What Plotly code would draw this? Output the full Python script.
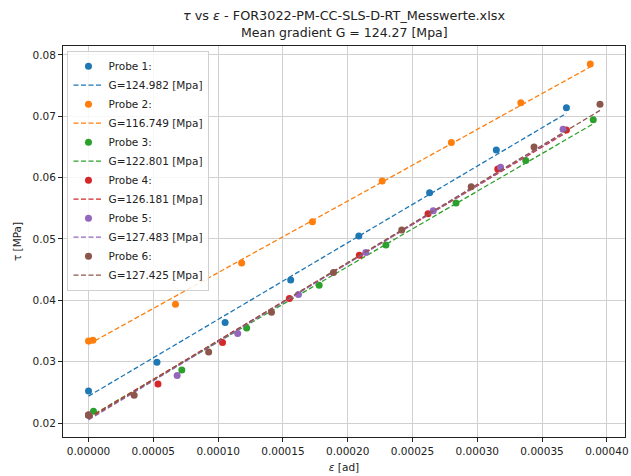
import numpy as np
import plotly.graph_objects as go

# ---- data ----
probe_names = ["Probe 1:", "Probe 2:", "Probe 3:", "Probe 4:", "Probe 5:", "Probe 6:"]
g_values = [124.982, 116.749, 122.801, 126.181, 127.483, 127.425]
mean_gradient = 124.27

eps1 = [0, 0.0000528, 0.0001054, 0.000156, 0.0002086, 0.0002632, 0.0003147, 0.0003688]
tau1 = [0.02522, 0.0299, 0.03638, 0.04333, 0.0505, 0.05752, 0.06449, 0.07139]

eps2 = [0, 0.0000034, 0.0000671, 0.0001182, 0.0001728, 0.0002266, 0.00028, 0.0003336, 0.0003872]
tau2 = [0.03338, 0.0335, 0.03936, 0.0461, 0.0528, 0.05943, 0.06574, 0.0722, 0.07851]

eps3 = [0, 0.0000038, 0.000072, 0.000122, 0.000178, 0.0002295, 0.0002836, 0.0003374, 0.0003895]
tau3 = [0.0213, 0.0219, 0.02865, 0.0355, 0.04246, 0.0490, 0.05584, 0.0628, 0.06943]

eps4 = [0, 0.0000536, 0.0001034, 0.000155, 0.000209, 0.000262, 0.0003158, 0.0003688]
tau4 = [0.0213, 0.02636, 0.03312, 0.0403, 0.04736, 0.0541, 0.0614, 0.06775]

eps5 = [0, 0.0000684, 0.0001151, 0.000162, 0.000214, 0.000266, 0.000318, 0.0003662]
tau5 = [0.0213, 0.02773, 0.03458, 0.04095, 0.0478, 0.0546, 0.0617, 0.0679]

eps6 = [0, 0.0000352, 0.0000927, 0.0001412, 0.000189, 0.0002417, 0.0002953, 0.0003438, 0.0003947]
tau6 = [0.02126, 0.02452, 0.03158, 0.03806, 0.04453, 0.05144, 0.0585, 0.065, 0.07194]

title_line1 = "<i>τ</i> vs <i>ε</i> - FOR3022-PM-CC-SLS-D-RT_Messwerte.xlsx"
title_line2 = f"Mean gradient G = {mean_gradient:.2f} [Mpa]"

colors = ["#1f77b4", "#ff7f0e", "#2ca02c", "#d62728", "#9467bd", "#8c564b"]

eps_all = [eps1, eps2, eps3, eps4, eps5, eps6]
tau_all = [tau1, tau2, tau3, tau4, tau5, tau6]

FONT = "DejaVu Sans"
TXT = "#222"
fig = go.Figure()

for name, g, ex, ty, c in zip(probe_names, g_values, eps_all, tau_all, colors):
    ex = np.array(ex)
    ty = np.array(ty)
    b = float(np.mean(ty - g * ex))
    xl = np.array([ex.min(), ex.max()])
    fig.add_trace(go.Scatter(x=ex, y=ty, mode="markers", name=name,
                             marker=dict(color=c, size=7)))
    fig.add_trace(go.Scatter(x=xl, y=g * xl + b, mode="lines",
                             name=f"G={g:.3f} [Mpa]",
                             line=dict(color=c, width=1.3, dash="5px,2.5px")))

fig.update_layout(
    width=631, height=476,
    margin=dict(l=63, r=3, t=46, b=39),
    paper_bgcolor="white", plot_bgcolor="white",
    font=dict(family=FONT, size=10.5, color=TXT),
    showlegend=True,
    legend=dict(x=0.008, y=0.988, xanchor="left", yanchor="top",
                bgcolor="rgba(255,255,255,0.85)", bordercolor="#d0d0d0", borderwidth=1,
                font=dict(size=10.5, family=FONT), tracegroupgap=0),
    annotations=[
        dict(text=title_line1, xref="paper", yref="paper", x=0.5, y=1 + 31 / 391,
             xanchor="center", yanchor="middle", showarrow=False,
             font=dict(size=12.8, family=FONT, color=TXT)),
        dict(text=title_line2, xref="paper", yref="paper", x=0.5, y=1 + 14 / 391,
             xanchor="center", yanchor="middle", showarrow=False,
             font=dict(size=12.5, family=FONT, color=TXT)),
    ],
)
fig.update_xaxes(range=[-0.0000197, 0.000414], tick0=0, dtick=0.00005, tickformat=".5f",
                 showgrid=True, gridcolor="#d0d0d0", gridwidth=1, zeroline=False,
                 showline=True, linecolor=TXT, linewidth=1, mirror=True,
                 ticks="outside", ticklen=4, tickcolor=TXT, ticklabeloverflow="allow",
                 title=dict(text="<i>ε</i> [ad]", standoff=8, font=dict(size=10.5)))
fig.update_yaxes(range=[0.01772, 0.08145], tick0=0, dtick=0.01, tickformat=".2f",
                 showgrid=True, gridcolor="#d0d0d0", gridwidth=1, zeroline=False,
                 showline=True, linecolor=TXT, linewidth=1, mirror=True,
                 ticks="outside", ticklen=4, tickcolor=TXT,
                 title=dict(text="τ [MPa]", standoff=8, font=dict(size=10.5)))

fig.write_html("out.html", config={"displayModeBar": False},
               post_script="document.body.style.margin='0px';")
